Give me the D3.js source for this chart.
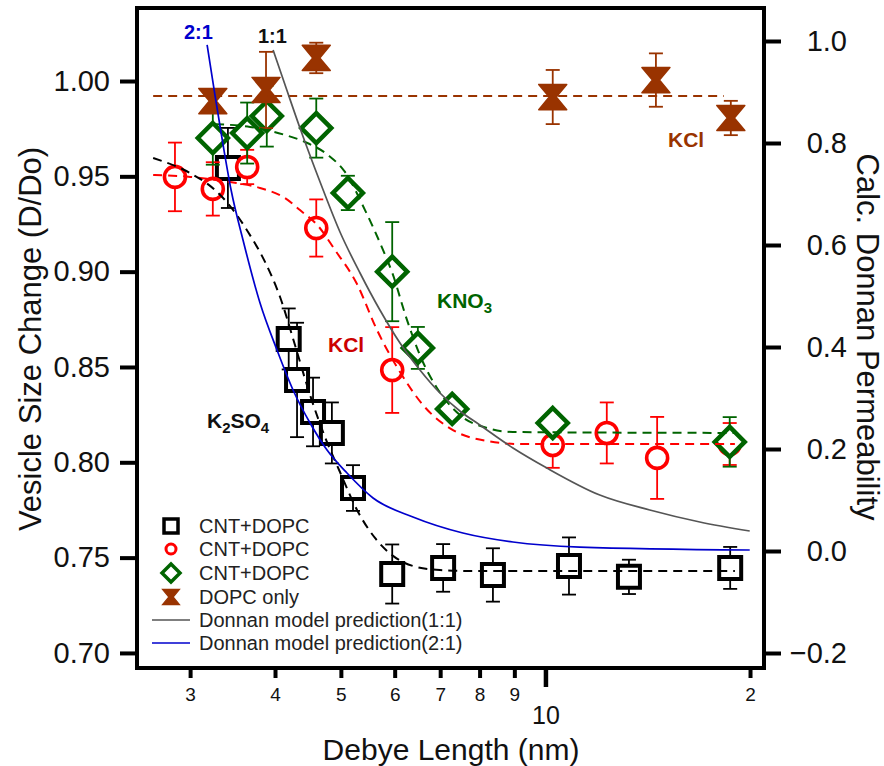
<!DOCTYPE html>
<html>
<head>
<meta charset="utf-8">
<script src="https://cdn.jsdelivr.net/npm/d3@7"></script>
<style>
  body { margin: 0; background: #fff; }
  svg { display: block; }
  text { font-family: "Liberation Sans", Arial, Helvetica, sans-serif; }
</style>
</head>
<body>
<svg id="chart" width="884" height="766"></svg>
<script>
// ---- measured vesicle size change (D/Do) vs Debye length (nm) ----
const debyeK2SO4 = [3.41, 4.19, 4.31, 4.55, 4.85, 5.21, 5.95, 7.07, 8.37, 10.83, 13.27, 18.7];
const sizeK2SO4  = [0.9544, 0.8647, 0.8432, 0.8264, 0.8154, 0.7865, 0.7414, 0.7446, 0.7409, 0.7456, 0.7399, 0.7446];
const errK2SO4   = [0.021, 0.016, 0.030, 0.018, 0.016, 0.012, 0.0155, 0.0125, 0.014, 0.015, 0.009, 0.011];

const debyeKCl = [2.85, 3.24, 3.64, 4.60, 5.95, 10.25, 12.31, 14.6, 18.67];
const sizeKCl  = [0.9497, 0.9434, 0.9549, 0.9229, 0.8484, 0.8091, 0.8154, 0.8023, 0.8096];
const errKCl   = [0.018, 0.014, 0.009, 0.015, 0.0225, 0.012, 0.016, 0.0215, 0.011];

const debyeKNO3 = [3.24, 3.64, 3.89, 4.60, 5.12, 5.95, 6.49, 7.29, 10.25, 18.67];
const sizeKNO3  = [0.9701, 0.9727, 0.9816, 0.9753, 0.9413, 0.9000, 0.8600, 0.8280, 0.8206, 0.8107];
const errKNO3   = [0.014, 0.016, 0.016, 0.0155, 0.009, 0.026, 0.011, 0.005, 0.005, 0.013];

const debyeDOPC = [3.24, 3.88, 4.60, 10.25, 14.54, 18.74];
const sizeDOPC  = [0.9895, 0.9953, 1.0121, 0.9916, 1.0005, 0.9806];
const errDOPC   = [0.006, 0.020, 0.008, 0.0142, 0.014, 0.009];

// ---- fitted trend lines (dashed) ----
const fitK2SO4X = [2.647, 3.0, 3.265, 3.435, 3.651, 3.867, 4.069, 4.280, 4.504, 4.738, 4.985, 5.281, 5.613, 5.966, 6.383, 6.995, 7.742, 19.0];
const fitK2SO4Y = [0.9596, 0.9517, 0.9428, 0.9344, 0.9208, 0.9051, 0.8867, 0.8615, 0.8353, 0.8133, 0.7949, 0.7750, 0.7603, 0.7509, 0.7456, 0.7435, 0.7430, 0.7430];

const fitKClX = [2.647, 3.0, 3.435, 3.802, 4.139, 4.353, 4.628, 4.901, 5.281, 5.651, 6.109, 6.602, 7.310, 8.199, 9.172, 19.0];
const fitKClY = [0.9507, 0.9497, 0.9470, 0.9439, 0.9386, 0.9323, 0.9240, 0.9114, 0.8935, 0.8694, 0.8474, 0.8301, 0.8169, 0.8112, 0.8096, 0.8096];

const fitKNO3X = [3.265, 3.676, 4.139, 4.429, 4.786, 5.070, 5.426, 5.767, 5.952, 6.255, 6.602, 6.924, 7.483, 8.199, 8.958, 19.0];
const fitKNO3Y = [0.9774, 0.9759, 0.9717, 0.9680, 0.9612, 0.9523, 0.9323, 0.9114, 0.8993, 0.8747, 0.8526, 0.8390, 0.8248, 0.8180, 0.8159, 0.8154];

const fitDOPCX = [2.647, 18.3];
const fitDOPCY = [0.9921, 0.9921];

// ---- Donnan model permeability (right axis) ----
const donnan11X = [3.974, 4.139, 4.353, 4.660, 4.985, 5.335, 5.707, 6.109, 6.536, 6.995, 7.483, 8.007, 8.958, 10.05, 12.02, 14.24, 16.87, 19.98];
const donnan11Y = [0.9824, 0.9137, 0.8294, 0.7235, 0.6255, 0.5451, 0.4725, 0.4078, 0.3549, 0.3098, 0.2745, 0.2471, 0.2020, 0.1627, 0.1098, 0.0804, 0.0569, 0.0392];

const donnan21X = [3.178, 3.265, 3.355, 3.447, 3.589, 3.802, 4.027, 4.252, 4.504, 4.771, 5.105, 5.576, 6.383, 7.559, 8.958, 11.23, 19.98];
const donnan21Y = [0.9922, 0.8922, 0.7961, 0.7078, 0.6098, 0.4863, 0.3941, 0.3157, 0.2510, 0.1980, 0.1529, 0.1039, 0.0667, 0.0353, 0.0176, 0.0078, 0.0020];

// ---- axis ticks ----
const leftTicks  = [0.70, 0.75, 0.80, 0.85, 0.90, 0.95, 1.00];
const rightTicks = [-0.2, 0.0, 0.2, 0.4, 0.6, 0.8, 1.0];
const minorXTicks = [3, 4, 5, 6, 7, 8, 9, 20];
const majorXTicks = [10];

const legendLabels = ["CNT+DOPC", "CNT+DOPC", "CNT+DOPC", "DOPC only",
                      "Donnan model prediction(1:1)", "Donnan model prediction(2:1)"];

// ---- colours ----
const cBlack = "#000000", cRed = "#ff0000", cGreen = "#006400", cBrown = "#993300",
      cGray = "#555555", cBlue = "#0000cc";

// ---- layout ----
const svg = d3.select("#chart");
const L = 137, R = 764, T = 8, B = 668;

const x  = d3.scaleLog().domain([2.506, 20.97]).range([L, R]);
const yL = d3.scaleLinear().domain([0.6921, 1.0383]).range([B, T]);
const yR = d3.scaleLinear().domain([-0.2294, 1.0647]).range([B, T]);

svg.append("defs").append("clipPath").attr("id", "plotClip")
  .append("rect").attr("x", L).attr("y", T).attr("width", R - L).attr("height", B - T);

// ---- axes ----
const gLeft = svg.append("g").attr("transform", `translate(${L},0)`)
  .call(d3.axisLeft(yL).tickValues(leftTicks).tickSize(17).tickPadding(10).tickFormat(d3.format(".2f")));
gLeft.select(".domain").remove();
gLeft.selectAll(".tick line").attr("stroke", "#000").attr("stroke-width", 4);
gLeft.selectAll(".tick text").attr("font-size", 29).attr("fill", "#111")
  .attr("font-family", '"Liberation Sans", Arial, sans-serif');

const gRight = svg.append("g").attr("transform", `translate(${R},0)`)
  .call(d3.axisRight(yR).tickValues(rightTicks).tickSize(17).tickFormat(d3.format(".1f")));
gRight.select(".domain").remove();
gRight.selectAll(".tick line").attr("stroke", "#000").attr("stroke-width", 4);
gRight.selectAll(".tick text").attr("font-size", 29).attr("fill", "#111")
  .attr("text-anchor", "end").attr("x", 83)
  .attr("font-family", '"Liberation Sans", Arial, sans-serif');

const gMinor = svg.append("g").attr("transform", `translate(0,${B})`)
  .call(d3.axisBottom(x).tickValues(minorXTicks).tickSize(10)
    .tickFormat(d => d === 20 ? "2" : String(d)));
gMinor.select(".domain").remove();
gMinor.selectAll(".tick line").attr("stroke", "#000").attr("stroke-width", 4);
gMinor.selectAll(".tick text").attr("font-size", 19).attr("fill", "#111")
  .attr("y", 33).attr("dy", 0)
  .attr("font-family", '"Liberation Sans", Arial, sans-serif');

const gMajor = svg.append("g").attr("transform", `translate(0,${B})`)
  .call(d3.axisBottom(x).tickValues(majorXTicks).tickSize(19).tickFormat(d3.format("d")));
gMajor.select(".domain").remove();
gMajor.selectAll(".tick line").attr("stroke", "#000").attr("stroke-width", 4.5);
gMajor.selectAll(".tick text").attr("font-size", 25).attr("fill", "#111")
  .attr("y", 56).attr("dy", 0)
  .attr("font-family", '"Liberation Sans", Arial, sans-serif');

// axis titles
svg.append("text").attr("x", 451).attr("y", 760).attr("text-anchor", "middle")
  .attr("font-size", 30).attr("fill", "#111").text("Debye Length (nm)");
svg.append("text").attr("transform", "translate(30,339) rotate(-90)")
  .attr("text-anchor", "middle").attr("dy", "0.35em")
  .attr("font-size", 31).attr("fill", "#111").text("Vesicle Size Change (D/Do)");
svg.append("text").attr("transform", "translate(868,337) rotate(90)")
  .attr("text-anchor", "middle").attr("dy", "0.35em")
  .attr("font-size", 31).attr("fill", "#111").text("Calc. Donnan Permeability");

// ---- marker shapes ----
const shapes = {
  square: s => `M${-s},${-s}H${s}V${s}H${-s}Z`,
  diamond: s => `M0,${-s}L${s},0L0,${s}L${-s},0Z`,
  circle: s => `M${s},0A${s},${s} 0 1,1 ${-s},0A${s},${s} 0 1,1 ${s},0Z`,
  hourglass: s => `M${-s},${-s * 0.9}H${s}L${s * 0.25},0L${s},${s * 0.9}H${-s}L${-s * 0.25},0Z`
};
const styleFor = {
  square:    { size: 11,  sw: 4,   fill: "#fff" },
  circle:    { size: 10.5, sw: 3.6, fill: "#fff" },
  diamond:   { size: 15,  sw: 4.5, fill: "#fff" },
  hourglass: { size: 14,  sw: 1.5, fill: null }
};

const plot = svg.append("g");

function drawSeries(xs, ys, errs, color, shape) {
  const g = plot.append("g");
  const st = styleFor[shape];
  xs.forEach((xv, i) => {
    const px = x(xv), yTop = yL(ys[i] + errs[i]), yBot = yL(ys[i] - errs[i]);
    g.append("line").attr("x1", px).attr("x2", px).attr("y1", yTop).attr("y2", yBot)
      .attr("stroke", color).attr("stroke-width", 1.8);
    [yTop, yBot].forEach(yy => g.append("line")
      .attr("x1", px - 7).attr("x2", px + 7).attr("y1", yy).attr("y2", yy)
      .attr("stroke", color).attr("stroke-width", 1.8));
  });
  xs.forEach((xv, i) => {
    g.append("path").attr("d", shapes[shape](st.size))
      .attr("transform", `translate(${x(xv)},${yL(ys[i])})`)
      .attr("fill", st.fill || color).attr("stroke", color)
      .attr("stroke-width", st.sw).attr("stroke-linejoin", shape === "hourglass" ? "round" : "miter");
  });
}

drawSeries(debyeK2SO4, sizeK2SO4, errK2SO4, cBlack, "square");
drawSeries(debyeKCl, sizeKCl, errKCl, cRed, "circle");
drawSeries(debyeKNO3, sizeKNO3, errKNO3, cGreen, "diamond");
drawSeries(debyeDOPC, sizeDOPC, errDOPC, cBrown, "hourglass");

// ---- curves ----
const curves = svg.append("g").attr("clip-path", "url(#plotClip)");
const lineL = d3.line().x(d => x(d[0])).y(d => yL(d[1])).curve(d3.curveMonotoneX);
const lineR = d3.line().x(d => x(d[0])).y(d => yR(d[1])).curve(d3.curveMonotoneX);
const zip = (a, b) => a.map((v, i) => [v, b[i]]);

function dashed(xs, ys, color) {
  curves.append("path").attr("d", lineL(zip(xs, ys))).attr("fill", "none")
    .attr("stroke", color).attr("stroke-width", 2).attr("stroke-dasharray", "9,6");
}
dashed(fitDOPCX, fitDOPCY, cBrown);
dashed(fitKNO3X, fitKNO3Y, cGreen);
dashed(fitKClX, fitKClY, cRed);
dashed(fitK2SO4X, fitK2SO4Y, cBlack);

curves.append("path").attr("d", lineR(zip(donnan11X, donnan11Y))).attr("fill", "none")
  .attr("stroke", cGray).attr("stroke-width", 1.7);
curves.append("path").attr("d", lineR(zip(donnan21X, donnan21Y))).attr("fill", "none")
  .attr("stroke", cBlue).attr("stroke-width", 1.7);

// ---- frame ----
svg.append("rect").attr("x", L).attr("y", T).attr("width", R - L).attr("height", B - T)
  .attr("fill", "none").attr("stroke", "#000").attr("stroke-width", 4);

// ---- in-plot labels ----
function label(txt, px, py, color, size) {
  return svg.append("text").attr("x", px).attr("y", py).attr("fill", color)
    .attr("font-size", size).attr("font-weight", "bold").text(txt);
}
label("2:1", 184, 39, cBlue, 20);
label("1:1", 258, 43, "#111", 20);
label("KCl", 668, 147, cBrown, 21);
label("KCl", 328, 352, "#cc0000", 21);

const kno = svg.append("text").attr("x", 437).attr("y", 308).attr("fill", cGreen)
  .attr("font-size", 21).attr("font-weight", "bold");
kno.append("tspan").text("KNO");
kno.append("tspan").attr("font-size", 15).attr("dy", 5).text("3");

const kso = svg.append("text").attr("x", 207).attr("y", 428).attr("fill", "#111")
  .attr("font-size", 21).attr("font-weight", "bold");
kso.append("tspan").text("K");
kso.append("tspan").attr("font-size", 15).attr("dy", 5).text("2");
kso.append("tspan").attr("dy", -5).text("SO");
kso.append("tspan").attr("font-size", 15).attr("dy", 5).text("4");

// ---- legend ----
const legRows = [526, 549, 573, 597, 620, 643];
const legend = svg.append("g");
const legMarks = [
  { shape: "square", color: cBlack, size: 7, sw: 3.5 },
  { shape: "circle", color: cRed, size: 5, sw: 3 },
  { shape: "diamond", color: cGreen, size: 9, sw: 3.5 },
  { shape: "hourglass", color: cBrown, size: 8.5, sw: 1.2 },
  { line: cGray },
  { line: cBlue }
];
legendLabels.forEach((lab, i) => {
  const yy = legRows[i], m = legMarks[i];
  if (m.line) {
    legend.append("line").attr("x1", 152).attr("x2", 190).attr("y1", yy).attr("y2", yy)
      .attr("stroke", m.line).attr("stroke-width", 1.7);
  } else {
    legend.append("path").attr("d", shapes[m.shape](m.size))
      .attr("transform", `translate(171,${yy})`)
      .attr("fill", m.shape === "hourglass" ? m.color : "#fff")
      .attr("stroke", m.color).attr("stroke-width", m.sw).attr("stroke-linejoin", "miter");
  }
  legend.append("text").attr("x", 199).attr("y", yy).attr("dy", "0.36em")
    .attr("font-size", 20).attr("fill", "#222").text(lab);
});
</script>
</body>
</html>
